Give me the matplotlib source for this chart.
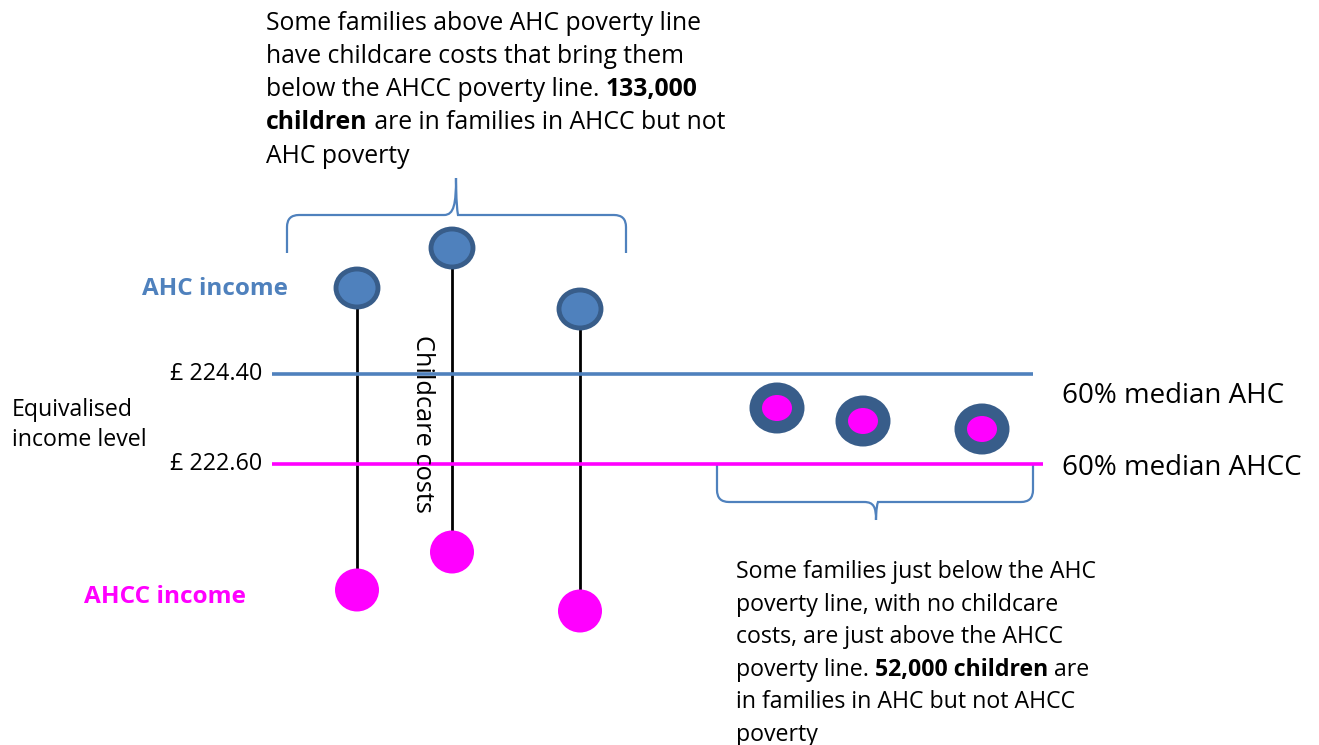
import matplotlib
matplotlib.use("Agg")
import matplotlib.pyplot as plt
from matplotlib.patches import Ellipse, PathPatch
from matplotlib.path import Path

plt.rcParams['font.family'] = ['Open Sans', 'DejaVu Sans']

# ---- data (diagram coordinates, y grows downward) ----
poverty_labels = ["£ 224.40", "£ 222.60"]
poverty_names = ["60% median AHC", "60% median AHCC"]
poverty_levels = [374, 464]
family_x = [357, 452, 580]
ahc_income = [288, 248, 309]
ahcc_income = [590, 552, 611]
near_x = [777, 863, 982]
near_income = [408, 421, 429]

BLUE = "#4F81BD"
DARK = "#385D8A"
MAG = "#FF00FF"

fig = plt.figure(figsize=(13.19, 7.45), dpi=100)
ax = fig.add_axes([0, 0, 1, 1])
ax.set_xlim(0, 1319)
ax.set_ylim(745, 0)
ax.axis("off")

# poverty lines
ax.plot([272, 1033], [poverty_levels[0]] * 2, color=BLUE, lw=2.6, solid_capstyle="butt")
ax.plot([272, 1043], [poverty_levels[1]] * 2, color=MAG, lw=2.6, solid_capstyle="butt")
for lab, y in zip(poverty_labels, poverty_levels):
    ax.text(262, y, lab, ha="right", va="center", fontsize=16.8)
ax.text(1062, 396, poverty_names[0], ha="left", va="center", fontsize=20)
ax.text(1062, 468, poverty_names[1], ha="left", va="center", fontsize=20)
ax.text(12, 410, "Equivalised", ha="left", va="center", fontsize=16.7)
ax.text(12, 440, "income level", ha="left", va="center", fontsize=16.7)

ax.text(288, 289, "AHC income", ha="right", va="center", fontsize=17.5, fontweight="bold", color=BLUE)
ax.text(246, 597, "AHCC income", ha="right", va="center", fontsize=17.6, fontweight="bold", color=MAG)

# families with childcare costs
for x, yt, yb in zip(family_x, ahc_income, ahcc_income):
    ax.plot([x, x], [yt + 20, yb - 16], color="black", lw=2, zorder=1)
    ax.add_patch(Ellipse((x, yt), 42, 38, facecolor=BLUE, edgecolor=DARK, lw=3.5, zorder=2))
    ax.add_patch(Ellipse((x, yb), 44, 43, facecolor=MAG, edgecolor="none", zorder=2))

ax.text(423, 424, "Childcare costs", rotation=-90, ha="center", va="center", fontsize=18.3)

# families just below AHC line, no childcare
for x, y in zip(near_x, near_income):
    ax.add_patch(Ellipse((x, y), 55, 51, facecolor=DARK, edgecolor="none", zorder=2))
    ax.add_patch(Ellipse((x, y), 30, 26, facecolor=MAG, edgecolor="none", zorder=3))


def brace(x0, x1, xm, y_end, y_bar, y_tip):
    s = 1 if y_bar > y_end else -1
    r = 12
    verts = [(x0, y_end), (x0, y_bar - s * r), (x0, y_bar), (x0 + r, y_bar),
             (xm - r, y_bar), (xm - 2, y_bar), (xm, y_bar + (y_tip - y_bar) * 0.3),
             (xm, y_tip),
             (xm, y_tip), (xm, y_bar + (y_tip - y_bar) * 0.3), (xm + 2, y_bar),
             (xm + r, y_bar), (x1 - r, y_bar), (x1, y_bar), (x1, y_bar - s * r),
             (x1, y_end)]
    codes = [Path.MOVETO, Path.LINETO, Path.CURVE3, Path.CURVE3,
             Path.LINETO, Path.CURVE4, Path.CURVE4, Path.CURVE4,
             Path.CURVE4, Path.CURVE4, Path.CURVE4,
             Path.LINETO, Path.LINETO, Path.CURVE3, Path.CURVE3, Path.LINETO]
    ax.add_patch(PathPatch(Path(verts, codes), facecolor="none", edgecolor=BLUE, lw=1.6))

brace(287, 626, 456, 253, 215, 178)
brace(717, 1033, 876, 464, 502, 520)

fig.canvas.draw()
renderer = fig.canvas.get_renderer()


def rich_lines(x, y0, dy, lines, fs):
    inv = ax.transData.inverted()
    for i, segs in enumerate(lines):
        cx = x
        y = y0 + i * dy
        for txt, bold in segs:
            t = ax.text(cx, y, txt, ha="left", va="center", fontsize=fs,
                        fontweight="bold" if bold else "normal")
            bb = t.get_window_extent(renderer=renderer)
            p0 = inv.transform((bb.x0, bb.y0))
            p1 = inv.transform((bb.x1, bb.y0))
            cx += p1[0] - p0[0]

top_lines = [
    [("Some families above AHC poverty line", False)],
    [("have childcare costs that bring them", False)],
    [("below the AHCC poverty line. ", False), ("133,000", True)],
    [("children", True), (" are in families in AHCC but not", False)],
    [("AHC poverty", False)],
]
rich_lines(266, 23, 33.3, top_lines, 17.8)

bottom_lines = [
    [("Some families just below the AHC", False)],
    [("poverty line, with no childcare", False)],
    [("costs, are just above the AHCC", False)],
    [("poverty line. ", False), ("52,000 children", True), (" are", False)],
    [("in families in AHC but not AHCC", False)],
    [("poverty", False)],
]
rich_lines(736, 572, 32.6, bottom_lines, 16.7)

fig.savefig("out.png", dpi=100)
